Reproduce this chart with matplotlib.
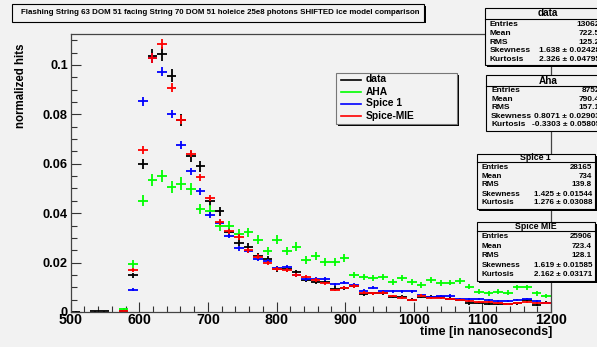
import numpy as np
import matplotlib
matplotlib.use("Agg")
import matplotlib.pyplot as plt
from matplotlib.patches import Rectangle
from matplotlib.lines import Line2D
from matplotlib.ticker import MultipleLocator, FuncFormatter

plt.rcParams['font.family'] = ['Liberation Sans', 'DejaVu Sans']
plt.rcParams['font.weight'] = 'bold'

# ---------------- data ----------------
bin_low, bin_high, bin_width = 500, 1200, 14
bin_centers = np.arange(bin_low, bin_high, bin_width) + bin_width / 2

data_vals = [0.0002, 0, 0.0003, 0.0003, 0, 0.0005, 0.0148, 0.0599, 0.1036, 0.1043,
             0.0957, 0.0776, 0.063, 0.0589, 0.0448, 0.0407, 0.0325, 0.028, 0.0265, 0.0225,
             0.0214, 0.0175, 0.0173, 0.016, 0.013, 0.0123, 0.0123, 0.0095, 0.0096, 0.0105,
             0.0072, 0.0075, 0.0078, 0.0062, 0.0062, 0.0049, 0.0062, 0.006, 0.006, 0.0053,
             0.0049, 0.0035, 0.0038, 0.0032, 0.0032, 0.0032, 0.0035, 0.0049, 0.0028, 0.0038]
aha_vals = [0, 0, 0, 0, 0, 0.0011, 0.0195, 0.045, 0.0535, 0.055,
            0.0506, 0.052, 0.0498, 0.0417, 0.041, 0.0346, 0.0349, 0.0316, 0.0322, 0.0292,
            0.0247, 0.0292, 0.0247, 0.0265, 0.0211, 0.0227, 0.0202, 0.0202, 0.022, 0.015,
            0.0143, 0.0139, 0.0143, 0.012, 0.0139, 0.012, 0.011, 0.013, 0.0116, 0.0119,
            0.0126, 0.0103, 0.0082, 0.0076, 0.0082, 0.0078, 0.01, 0.01, 0.0076, 0.0065]
spice1_vals = [0, 0, 0, 0, 0, 0, 0.009, 0.0853, 0.1028, 0.0972,
               0.0802, 0.0677, 0.0569, 0.0488, 0.0394, 0.0362, 0.0308, 0.0258, 0.0247, 0.0214,
               0.0205, 0.0177, 0.0184, 0.015, 0.0133, 0.0133, 0.0133, 0.0112, 0.0119, 0.011,
               0.0086, 0.0099, 0.0085, 0.0084, 0.0084, 0.0084, 0.0069, 0.006, 0.0065, 0.0066,
               0.0053, 0.0053, 0.0052, 0.0049, 0.0045, 0.0045, 0.0049, 0.0052, 0.0045, 0.0038]
spicemie_vals = [0, 0, 0, 0, 0, 0.0006, 0.017, 0.0654, 0.1029, 0.1086,
                 0.0907, 0.0779, 0.0641, 0.0545, 0.0462, 0.0363, 0.0326, 0.0303, 0.025, 0.0224,
                 0.0198, 0.0173, 0.0168, 0.015, 0.0143, 0.013, 0.0116, 0.0089, 0.0099, 0.0105,
                 0.0078, 0.0076, 0.0078, 0.0065, 0.0058, 0.0049, 0.0066, 0.0057, 0.0056, 0.0053,
                 0.0049, 0.0046, 0.0042, 0.0042, 0.0038, 0.0032, 0.0038, 0.0042, 0.0035, 0.0035]

series_names = ["data", "AHA", "Spice 1", "Spice-MIE"]
series_vals = [data_vals, aha_vals, spice1_vals, spicemie_vals]
series_colors = ["#000000", "#00ff00", "#0000ff", "#ff0000"]
series_entries = [13062, 8752, 28165, 25906]

stats_titles = ["data", "Aha", "Spice 1", "Spice MIE"]
stats_labels = ["Entries", "Mean", "RMS", "Skewness", "Kurtosis"]
stats_values = [
    ["13062", "722.5", "125.2", "1.638 \u00b1 0.02428", "2.326 \u00b1 0.04795"],
    ["8752", "790.4", "157.1", "0.8071 \u00b1 0.02903", "-0.3303 \u00b1 0.05805"],
    ["28165", "734", "139.8", "1.425 \u00b1 0.01544", "1.276 \u00b1 0.03088"],
    ["25906", "723.4", "128.1", "1.619 \u00b1 0.01585", "2.162 \u00b1 0.03171"],
]

title_text = "Flashing String 63 DOM 51 facing String 70 DOM 51 holeice 25e8 photons SHIFTED ice model comparison"
x_label = "time [in nanoseconds]"
y_label = "normalized hits"
x_tick_vals = [500, 600, 700, 800, 900, 1000, 1100, 1200]
y_tick_vals = [0, 0.02, 0.04, 0.06, 0.08, 0.1]

# ---------------- layout ----------------
W, H = 597, 347
BG = "#f2f2f2"
fig = plt.figure(figsize=(W / 100, H / 100), dpi=100, facecolor=BG)

def fx(x):
    return x / W

def fy(y):
    return 1 - y / H

ax_l, ax_r, ax_t, ax_b = 70.7, 551, 34, 312
ax = fig.add_axes([fx(ax_l), fy(ax_b), (ax_r - ax_l) / W, (ax_b - ax_t) / H])
ax.set_facecolor(BG)

for vals, col, n in zip(series_vals, series_colors, series_entries):
    v = np.array(vals, dtype=float)
    m = v > 0
    err = np.sqrt(v[m] / n)
    ax.errorbar(bin_centers[m], v[m], xerr=bin_width / 2, yerr=err, fmt='none',
                ecolor=col, elinewidth=1.3, capsize=0)

ax.set_xlim(bin_low, bin_high)
ax.set_ylim(0, 0.1125)
ax.set_xticks(x_tick_vals)
ax.set_yticks(y_tick_vals)
ax.xaxis.set_minor_locator(MultipleLocator(20))
ax.yaxis.set_minor_locator(MultipleLocator(0.005))
ax.yaxis.set_major_formatter(FuncFormatter(lambda v, p: "%g" % v))
ax.tick_params(which='major', direction='in', length=7, width=0.8, color='#333333',
               top=False, right=False)
ax.tick_params(which='minor', direction='in', length=4, width=0.8, color='#333333',
               top=False, right=False)
ax.tick_params(axis='x', labelsize=10.3, pad=0.5)
ax.tick_params(axis='y', labelsize=9.2, pad=2)
for lab in ax.get_xticklabels() + ax.get_yticklabels():
    lab.set_fontweight('bold')
for s in ax.spines.values():
    s.set_color('#444444')
    s.set_linewidth(0.9)

fig.text(fx(552), fy(332.5), x_label, ha='right', va='center', fontsize=8.9, fontweight='bold')
fig.text(fx(20.7), fy(43), y_label, ha='center', va='top', rotation=90, fontsize=8.3,
         fontweight='bold')

def box(x0, y0, x1, y1, shadow=2, fc=BG, ec='#000000', lw=0.8):
    fig.add_artist(Rectangle((fx(x0 + shadow), fy(y1 + shadow)), (x1 - x0) / W, (y1 - y0) / H,
                             transform=fig.transFigure, facecolor='black', edgecolor='none', zorder=4))
    fig.add_artist(Rectangle((fx(x0), fy(y1)), (x1 - x0) / W, (y1 - y0) / H,
                             transform=fig.transFigure, facecolor=fc, edgecolor=ec, lw=lw, zorder=5))

# title box
box(12, 4, 424, 21.5, shadow=1.5)
fig.text(fx(220.5), fy(13), title_text, ha='center', va='center', fontsize=5.65,
         fontweight='bold', zorder=6)

# legend
box(336, 72.5, 456.5, 123.5, ec='#777777')
leg_rows = [79.5, 92, 103.5, 116]
for name, col, yy in zip(series_names, series_colors, leg_rows):
    fig.add_artist(Line2D([fx(341), fx(361)], [fy(yy), fy(yy)], transform=fig.transFigure,
                          color=col, lw=1.2, zorder=6))
    fig.text(fx(366), fy(yy), name, ha='left', va='center', fontsize=7.4,
             fontweight='bold', zorder=6)

# stats boxes: (x0, top, header_line, bottom, rows y, value right x, fontsize, header fontsize)
stat_geo = [
    (485, 7.5, 18.5, 64.5, [24.5, 33.3, 42, 50.7, 59.3], 600, 6.0, 7.2),
    (486, 75, 86, 130.5, [91, 99.3, 107.6, 116, 124.3], 600, 6.0, 7.2),
    (476.5, 154, 161.5, 208.5, [167.3, 176, 184.5, 194, 202.5], 592, 5.8, 6.3),
    (477, 221.5, 231, 280.5, [236.5, 246, 255.5, 265.3, 275], 592, 5.8, 6.3),
]
for title, vals, geo in zip(stats_titles, stats_values, stat_geo):
    x0, top, hl, bot, rows, vx, fs, hfs = geo
    x1 = 595 if vx < 597 else 640
    box(x0, top, x1, bot)
    fig.add_artist(Line2D([fx(x0), fx(x1)], [fy(hl), fy(hl)], transform=fig.transFigure,
                          color='black', lw=0.8, zorder=6))
    cx = (x0 + x1) / 2 if x1 < 600 else (x0 + 597 + 14) / 2
    fig.text(fx(cx), fy((top + hl) / 2), title, ha='center', va='center', fontsize=hfs,
             fontweight='bold', zorder=6)
    for lab, val, yy in zip(stats_labels, vals, rows):
        fig.text(fx(x0 + 5), fy(yy), lab, ha='left', va='center', fontsize=fs,
                 fontweight='bold', zorder=6)
        fig.text(fx(vx), fy(yy), val, ha='right', va='center', fontsize=fs,
                 fontweight='bold', zorder=6)

fig.savefig("out.png", dpi=100, facecolor=BG)
